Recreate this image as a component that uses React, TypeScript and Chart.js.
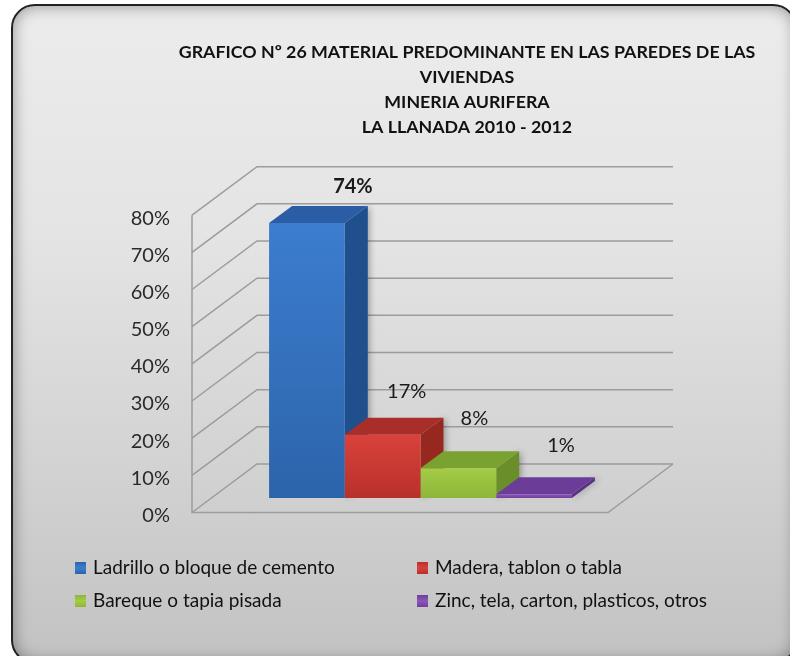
import React, { useEffect, useRef } from "react";
import { Chart, registerables } from "chart.js";

Chart.register(...registerables);

const categories = ["Series1"];
const seriesNames = [
  "Ladrillo o bloque de cemento",
  "Madera, tablon o tabla",
  "Bareque o tapia pisada",
  "Zinc, tela, carton, plasticos, otros",
];
const seriesValues = [74, 17, 8, 1];
const titleLines = [
  "GRAFICO Nº 26 MATERIAL PREDOMINANTE EN LAS PAREDES DE LAS",
  "VIVIENDAS",
  "MINERIA AURIFERA",
  "LA LLANADA 2010 - 2012",
];
const frontTop = ["#3c7dcf", "#d9423b", "#a4cc45", "#8a56bc"];
const frontBottom = ["#2c64aa", "#b8302b", "#8db63a", "#6f3f9c"];
const topColors = ["#2a5da6", "#a92e29", "#79a231", "#6b3d98"];
const sideColors = ["#1f4f8c", "#97281f", "#6a8f2a", "#5a3282"];
const labelWeights = ["bold", "normal", "normal", "normal"];

const FONT = "Lato, 'Liberation Sans', sans-serif";
const GRID = "#9c9c9c";
const WALL_DX = 65;
const WALL_DY = 48.5;
const BAR_SHIFT_X = 20.5;
const BAR_SHIFT_Y = -14.5;
const BAR_DX = 23;
const BAR_DY = 17;
const labelOffsets = [
  [46, -36],
  [24, -43],
  [16, -50],
  [27, -49],
];
const legendSlots = [
  [75, 568],
  [417, 568],
  [75, 601],
  [417, 601],
];

function poly(ctx: CanvasRenderingContext2D, pts: number[][], fill: string) {
  ctx.beginPath();
  pts.forEach((p, i) => (i ? ctx.lineTo(p[0], p[1]) : ctx.moveTo(p[0], p[1])));
  ctx.closePath();
  ctx.fillStyle = fill;
  ctx.fill();
}

const threeD = {
  id: "threeD",
  afterLayout(chart: any) {
    if (chart.titleBlock) {
      chart.titleBlock.left = 144;
      chart.titleBlock.right = 790;
    }
  },
  beforeDatasetsDraw(chart: any) {
    const { ctx, chartArea, scales } = chart;
    const y = scales.y;
    const { left, right } = chartArea;
    ctx.save();
    ctx.strokeStyle = GRID;
    ctx.lineWidth = 1.5;
    y.ticks.forEach((t: any) => {
      const py = y.getPixelForValue(t.value);
      ctx.beginPath();
      ctx.moveTo(left, py);
      ctx.lineTo(left + WALL_DX, py - WALL_DY);
      ctx.lineTo(right + WALL_DX, py - WALL_DY);
      ctx.stroke();
    });
    const y0 = y.getPixelForValue(0);
    ctx.beginPath();
    ctx.moveTo(left, y.getPixelForValue(80));
    ctx.lineTo(left, y0);
    ctx.lineTo(right, y0);
    ctx.lineTo(right + WALL_DX, y0 - WALL_DY);
    ctx.stroke();

    ctx.translate(BAR_SHIFT_X, BAR_SHIFT_Y);
    chart.data.datasets.forEach((_d: any, i: number) => {
      const el = chart.getDatasetMeta(i).data[0];
      const x0 = el.x - el.width / 2;
      const x1 = el.x + el.width / 2;
      ctx.save();
      ctx.shadowColor = "rgba(0,0,0,0.3)";
      ctx.shadowBlur = 6;
      ctx.shadowOffsetX = 2;
      poly(
        ctx,
        [
          [x1, el.y],
          [x1 + BAR_DX, el.y - BAR_DY],
          [x1 + BAR_DX, el.base - BAR_DY],
          [x1, el.base],
        ],
        sideColors[i]
      );
      ctx.restore();
      poly(
        ctx,
        [
          [x0, el.y],
          [x1, el.y],
          [x1 + BAR_DX, el.y - BAR_DY],
          [x0 + BAR_DX, el.y - BAR_DY],
        ],
        topColors[i]
      );
    });
    ctx.restore();
    ctx.save();
    ctx.translate(BAR_SHIFT_X, BAR_SHIFT_Y);
  },
  afterDatasetsDraw(chart: any) {
    const { ctx } = chart;
    ctx.restore();
    ctx.save();
    ctx.fillStyle = "#1a1a1a";
    ctx.textAlign = "center";
    ctx.textBaseline = "middle";
    chart.data.datasets.forEach((d: any, i: number) => {
      const el = chart.getDatasetMeta(i).data[0];
      ctx.font = `${labelWeights[i]} 20px ${FONT}`;
      ctx.fillText(
        `${d.data[0]}%`,
        el.x + BAR_SHIFT_X + labelOffsets[i][0],
        el.y + BAR_SHIFT_Y + labelOffsets[i][1]
      );
    });
    ctx.textAlign = "left";
    ctx.font = `19px ${FONT}`;
    chart.data.datasets.forEach((d: any, i: number) => {
      const [lx, ly] = legendSlots[i];
      const g = ctx.createLinearGradient(0, ly - 6, 0, ly + 6);
      g.addColorStop(0, frontBottom[i]);
      g.addColorStop(0.5, frontTop[i]);
      g.addColorStop(1, frontBottom[i]);
      ctx.fillStyle = g;
      ctx.fillRect(lx, ly - 6, 11, 12);
      ctx.fillStyle = "#111111";
      ctx.fillText(d.label, lx + 18, ly);
    });
    ctx.restore();
  },
};

export default function App() {
  const ref = useRef<HTMLCanvasElement>(null);
  useEffect(() => {
    const chart = new Chart(ref.current as HTMLCanvasElement, {
      type: "bar",
      data: {
        labels: categories,
        datasets: seriesNames.map((name, i) => ({
          label: name,
          data: [seriesValues[i]],
          clip: false,
          borderWidth: 0,
          barPercentage: 1,
          categoryPercentage: 0.728,
          backgroundColor: (c: any) => {
            const y = c.chart.scales.y;
            const y1 = y ? y.getPixelForValue(seriesValues[i]) : NaN;
            const y2 = y ? y.getPixelForValue(0) : NaN;
            if (!Number.isFinite(y1) || !Number.isFinite(y2)) return frontTop[i];
            const g = c.chart.ctx.createLinearGradient(0, y1, 0, y2);
            g.addColorStop(0, frontTop[i]);
            g.addColorStop(1, frontBottom[i]);
            return g;
          },
        })),
      } as any,
      options: {
        responsive: false,
        animation: false,
        events: [],
        layout: { padding: { left: 0, right: 182, top: 0, bottom: 143.5 } },
        plugins: {
          legend: { display: false },
          tooltip: { enabled: false },
          title: {
            display: true,
            text: titleLines,
            color: "#111111",
            font: { family: FONT, size: 17.8, weight: "bold", lineHeight: 1.4 },
            padding: { top: 40, bottom: 75.5 },
          },
        },
        scales: {
          x: { display: false },
          y: {
            min: 0,
            max: 80,
            afterFit: (s: any) => {
              s.width = 192;
            },
            grid: { display: false },
            border: { display: false },
            ticks: {
              stepSize: 10,
              padding: 14,
              labelOffset: 3,
              color: "#2a2a2a",
              font: { family: FONT, size: 20 },
              callback: (v: any) => `${v}%`,
            },
          },
        },
      } as any,
      plugins: [threeD],
    });
    return () => chart.destroy();
  }, []);
  return (
    <div style={{ position: "fixed", left: 0, top: 0, width: 790, height: 656, background: "#ffffff", overflow: "hidden" }}>
      <div
        style={{
          position: "absolute",
          left: 11,
          top: 4,
          width: 786,
          height: 660,
          boxSizing: "border-box",
          borderRadius: 24,
          border: "2px solid #222222",
          background: "linear-gradient(#ececec 0%, #e4e4e4 35%, #d0d0d0 75%, #c2c2c2 100%)",
          boxShadow: "inset 0 0 16px rgba(0,0,0,0.38)",
        }}
      />
      <canvas ref={ref} width={790} height={656} style={{ position: "absolute", left: 0, top: 0, display: "block" }} />
    </div>
  );
}
